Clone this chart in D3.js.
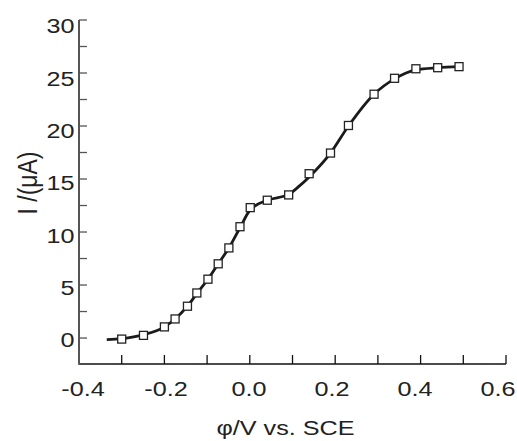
<!DOCTYPE html>
<html>
<head>
<meta charset="utf-8">
<script src="https://cdn.jsdelivr.net/npm/d3@7"></script>
<style>
  body { margin: 0; background: #fff; }
  text { font-family: "Liberation Sans", Arial, sans-serif; fill: #222; }
</style>
</head>
<body>
<svg id="chart"></svg>
<script>
// measured points (potential / current)
const potential = [-0.300, -0.249, -0.200, -0.175, -0.146, -0.124, -0.098, -0.074, -0.049, -0.023,
  0.001, 0.041, 0.091, 0.139, 0.189, 0.231, 0.291, 0.339, 0.389, 0.440, 0.490];
const current = [-0.1, 0.25, 1.05, 1.8, 3.0, 4.25, 5.55, 7.0, 8.5, 10.5,
  12.3, 13.0, 13.5, 15.5, 17.45, 20.05, 23.0, 24.5, 25.4, 25.5, 25.6];

// smooth fitted curve drawn under the markers
const fitX = [-0.335, -0.300, -0.250, -0.200, -0.175, -0.146, -0.124, -0.098, -0.074, -0.049, -0.023,
  0.001, 0.041, 0.091, 0.115, 0.139, 0.189, 0.231, 0.291, 0.339, 0.389, 0.440, 0.490];
const fitY = [-0.15, -0.05, 0.3, 1.05, 1.8, 3.0, 4.2, 5.55, 7.0, 8.5, 10.4,
  12.1, 13.0, 13.55, 14.3, 15.2, 17.45, 20.0, 23.0, 24.45, 25.3, 25.5, 25.6];

const xTicks = [-0.4, -0.2, 0.0, 0.2, 0.4, 0.6];
const xMinorTicks = [-0.3, -0.1, 0.1, 0.3, 0.5];
const xTickLabels = ["-0.4", "-0.2", "0.0", "0.2", "0.4", "0.6"];
const yTicks = [0, 5, 10, 15, 20, 25, 30];
const yMinorTicks = [2.5, 7.5, 12.5, 17.5, 22.5, 27.5];

const W = 517, H = 441;
const margin = { top: 20, right: 11, bottom: 77, left: 79 };
const width = W - margin.left - margin.right;
const height = H - margin.top - margin.bottom;
const stretch = 1.2; // text in the reference is drawn wider than tall

const svg = d3.select("#chart").attr("width", W).attr("height", H);
const g = svg.append("g").attr("transform", "translate(" + margin.left + "," + margin.top + ")");

const x = d3.scaleLinear().domain([-0.4, 0.6]).range([0, width]);
const y = d3.scaleLinear().domain([-2.45, 30]).range([height, 0]);
// tick labels sit on a slightly tighter spacing than the ticks
const xLab = d3.scaleLinear().domain([-0.4, 0.6]).range([x(-0.4) + 4, x(0.6) - 8]);
const yLab = d3.scaleLinear().domain([0, 30]).range([y(0) + 1.7, y(30) + 5.8]);

// x axis, ticks pointing up
const xAxis = g.append("g").attr("transform", "translate(0," + height + ")");
xAxis.append("line").attr("x1", 0).attr("x2", width)
  .attr("stroke", "#111").attr("stroke-width", 1.6);
xAxis.selectAll(".xt").data(xTicks.concat(xMinorTicks)).enter().append("line")
  .attr("x1", d => x(d)).attr("x2", d => x(d)).attr("y1", 0).attr("y2", -9)
  .attr("stroke", "#111").attr("stroke-width", 1.3);
xAxis.selectAll(".xl").data(xTicks).enter().append("text")
  .attr("transform", d => "translate(" + xLab(d) + ",31.7) scale(" + stretch + ",1)")
  .attr("text-anchor", "middle").attr("font-size", 21)
  .text((d, i) => xTickLabels[i]);

// y axis, ticks pointing right
const yAxis = g.append("g");
yAxis.append("line").attr("y1", y(30)).attr("y2", height + 0.8)
  .attr("stroke", "#555").attr("stroke-width", 2);
yAxis.selectAll(".yt").data(yTicks.concat(yMinorTicks)).enter().append("line")
  .attr("x1", 0).attr("x2", 8).attr("y1", d => y(d)).attr("y2", d => y(d))
  .attr("stroke", "#555").attr("stroke-width", 1.3);
yAxis.selectAll(".yl").data(yTicks).enter().append("text")
  .attr("transform", d => "translate(-4.5," + yLab(d) + ") scale(" + stretch + ",1)")
  .attr("dy", "0.36em").attr("text-anchor", "end")
  .attr("font-size", 21).text(d => d);

// axis titles
svg.append("text").attr("transform", "translate(285.5,435) scale(" + stretch + ",1)")
  .attr("text-anchor", "middle").attr("font-size", 21).text("φ/V vs. SCE");
svg.append("text").attr("transform", "translate(37,183) scale(" + stretch + ",1) rotate(-90)")
  .attr("text-anchor", "middle").attr("font-size", 23).text("I /(μA)");

// fitted curve
const fit = fitX.map((p, i) => [p, fitY[i]]);
const line = d3.line().x(d => x(d[0])).y(d => y(d[1])).curve(d3.curveMonotoneX);
g.append("path").datum(fit).attr("d", line)
  .attr("fill", "none").attr("stroke", "#1a1a1a").attr("stroke-width", 2.8);

// markers
const pts = potential.map((p, i) => [p, current[i]]);
const s = 8;
g.selectAll(".pt").data(pts).enter().append("rect")
  .attr("x", d => x(d[0]) - s / 2).attr("y", d => y(d[1]) - s / 2)
  .attr("width", s).attr("height", s)
  .attr("fill", "#fff").attr("stroke", "#222").attr("stroke-width", 1.3);
</script>
</body>
</html>
